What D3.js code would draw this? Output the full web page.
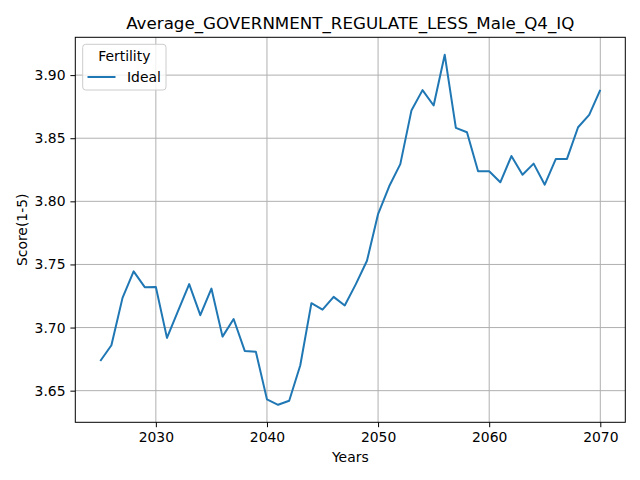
<!DOCTYPE html>
<html>
<head>
<meta charset="utf-8">
<script src="https://cdn.jsdelivr.net/npm/d3@7"></script>
<style>
  body { margin: 0; background: #fff; }
  svg text { font-family: "DejaVu Sans", sans-serif; fill: #000; }
</style>
</head>
<body>
<div class="chart"></div>
<script>
// values
const years = d3.range(2025, 2071)
const ideal = [
    3.6735, 3.6860, 3.7235, 3.7445, 3.7320, 3.7322, 3.6918, 3.7132, 3.7344, 3.7098,
    3.7309, 3.6928, 3.7068, 3.6815, 3.6809, 3.6431, 3.6388, 3.6420, 3.6701, 3.7193,
    3.7142, 3.7243, 3.7175, 3.7344, 3.7529, 3.7899, 3.8119, 3.8295, 3.8719, 3.8881,
    3.8759, 3.9161, 3.8582, 3.8547, 3.8238, 3.8238, 3.8151, 3.8359, 3.8211, 3.8299,
    3.8132, 3.8336, 3.8336, 3.8587, 3.8685, 3.8883
]
const xTicks = [2030, 2040, 2050, 2060, 2070]
const yTicks = [3.65, 3.70, 3.75, 3.80, 3.85, 3.90]
const seriesName = 'Ideal'
const legendTitle = 'Fertility'
const chartTitle = 'Average_GOVERNMENT_REGULATE_LESS_Male_Q4_IQ'

const width = 640
const height = 480
// plot box (window.top is taken, so use prefixed names)
const boxL = 75.3, boxR = 625.3, boxT = 37.3, boxB = 422.3

const svg = d3.select('.chart').append('svg')
    .attr('width', width)
    .attr('height', height)

// matplotlib style 5% margins
const xExt = d3.extent(years)
const xPad = (xExt[1] - xExt[0]) * 0.05
const yExt = d3.extent(ideal)
const yPad = (yExt[1] - yExt[0]) * 0.05

const xScale = d3.scaleLinear().domain([xExt[0] - xPad, xExt[1] + xPad]).range([boxL, boxR])
const yScale = d3.scaleLinear().domain([yExt[0] - yPad, yExt[1] + yPad]).range([boxB, boxT])

// grid
const grid = svg.append('g')
grid.selectAll('.vg').data(xTicks).enter().append('line')
    .attr('x1', d => xScale(d)).attr('x2', d => xScale(d))
    .attr('y1', boxT).attr('y2', boxB)
    .attr('stroke', '#b0b0b0').attr('stroke-width', 1)
grid.selectAll('.hg').data(yTicks).enter().append('line')
    .attr('x1', boxL).attr('x2', boxR)
    .attr('y1', d => yScale(d)).attr('y2', d => yScale(d))
    .attr('stroke', '#b0b0b0').attr('stroke-width', 1)

// the line
const line = d3.line()
    .x((d, i) => xScale(years[i]))
    .y(d => yScale(d))

svg.append('path')
    .datum(ideal)
    .attr('d', line)
    .attr('fill', 'none')
    .attr('stroke', '#1f77b4')
    .attr('stroke-width', 2)
    .attr('stroke-linejoin', 'round')

// axes
const xAxis = d3.axisBottom(xScale).tickValues(xTicks).tickFormat(d3.format('d'))
    .tickSizeInner(4.9).tickSizeOuter(0).tickPadding(4.9)
const yAxis = d3.axisLeft(yScale).tickValues(yTicks).tickFormat(d3.format('.2f'))
    .tickSizeInner(4.9).tickSizeOuter(0).tickPadding(4.9)

const gx = svg.append('g').attr('transform', `translate(0, ${boxB})`).call(xAxis)
const gy = svg.append('g').attr('transform', `translate(${boxL}, 0)`).call(yAxis)
gx.select('.domain').remove()
gy.select('.domain').remove()
svg.selectAll('.tick line').attr('stroke', '#000').attr('stroke-width', 1)
svg.selectAll('.tick text').style('font-size', '13.9px').style('font-family', '"DejaVu Sans", sans-serif').attr('fill', '#000')

// frame
svg.append('rect')
    .attr('x', boxL).attr('y', boxT)
    .attr('width', boxR - boxL).attr('height', boxB - boxT)
    .attr('fill', 'none').attr('stroke', '#000').attr('stroke-width', 1)

// title and axis labels
svg.append('text')
    .attr('x', (boxL + boxR) / 2).attr('y', 29)
    .attr('text-anchor', 'middle')
    .style('font-size', '16.7px')
    .text(chartTitle)

svg.append('text')
    .attr('x', (boxL + boxR) / 2).attr('y', 462)
    .attr('text-anchor', 'middle')
    .style('font-size', '13.9px')
    .text('Years')

svg.append('text')
    .attr('transform', `translate(27, ${(boxT + boxB) / 2}) rotate(-90)`)
    .attr('text-anchor', 'middle')
    .style('font-size', '13.9px')
    .text('Score(1-5)')

// legend
const legend = svg.append('g')
legend.append('rect')
    .attr('x', 82.7).attr('y', 44.3)
    .attr('width', 83.3).attr('height', 45.7)
    .attr('rx', 3)
    .attr('fill', '#fff').attr('fill-opacity', 0.8)
    .attr('stroke', '#cccccc').attr('stroke-width', 1)
legend.append('text')
    .attr('x', 124.3).attr('y', 61)
    .attr('text-anchor', 'middle')
    .style('font-size', '13.9px')
    .text(legendTitle)
legend.append('line')
    .attr('x1', 87.5).attr('x2', 115.5)
    .attr('y1', 77).attr('y2', 77)
    .attr('stroke', '#1f77b4').attr('stroke-width', 2)
legend.append('text')
    .attr('x', 127).attr('y', 82)
    .style('font-size', '13.9px')
    .text(seriesName)
</script>
</body>
</html>
